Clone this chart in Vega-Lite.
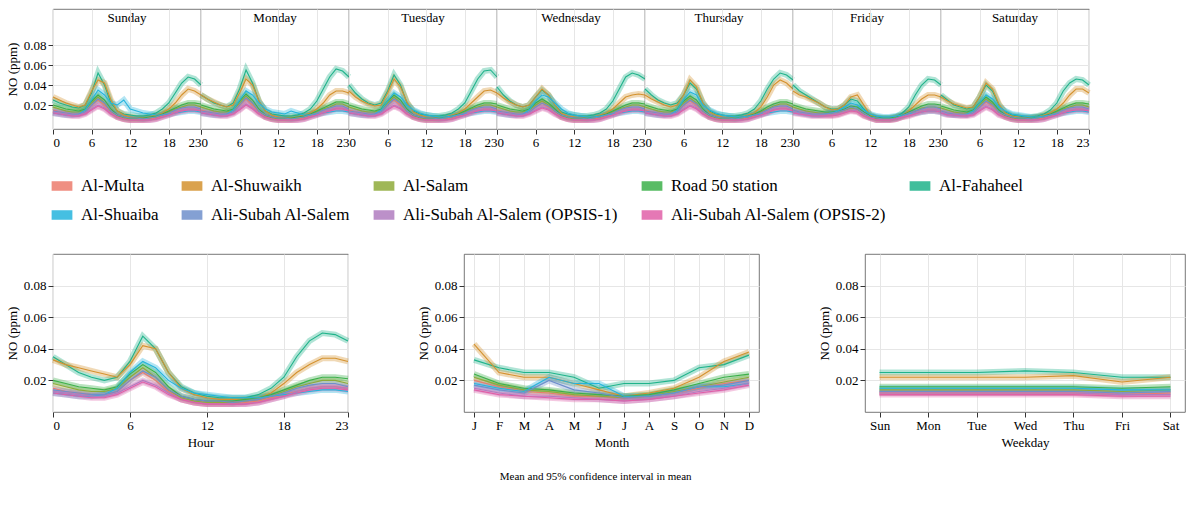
{
  "$schema": "https://vega.github.io/schema/vega-lite/v6.json",
  "background": "white",
  "padding": {"left": 5, "top": 8, "right": 5, "bottom": 5},
  "title": {"text": "Mean and 95% confidence interval in mean", "orient": "bottom", "anchor": "middle", "fontSize": 11, "fontWeight": "normal", "font": "Liberation Serif", "offset": 22},
  "datasets": {
    "top": [
      {"d": "Sunday", "s": "Al-Fahaheel", "v": [0.025,0.022,0.020,0.018,0.017,0.020,0.032,0.052,0.040,0.022,0.014,0.011,0.010,0.009,0.009,0.010,0.012,0.016,0.022,0.032,0.042,0.048,0.046,0.040]},
      {"d": "Monday", "s": "Al-Fahaheel", "v": [0.030,0.026,0.022,0.020,0.018,0.022,0.036,0.055,0.042,0.024,0.014,0.011,0.010,0.009,0.009,0.010,0.012,0.016,0.024,0.036,0.048,0.056,0.054,0.048]},
      {"d": "Tuesday", "s": "Al-Fahaheel", "v": [0.040,0.032,0.026,0.022,0.020,0.022,0.034,0.050,0.040,0.022,0.014,0.011,0.010,0.009,0.009,0.010,0.012,0.016,0.022,0.034,0.046,0.054,0.055,0.048]},
      {"d": "Wednesday", "s": "Al-Fahaheel", "v": [0.038,0.030,0.024,0.020,0.018,0.020,0.028,0.035,0.030,0.020,0.013,0.011,0.010,0.009,0.009,0.010,0.012,0.016,0.024,0.036,0.048,0.052,0.050,0.046]},
      {"d": "Thursday", "s": "Al-Fahaheel", "v": [0.036,0.030,0.025,0.022,0.020,0.022,0.030,0.042,0.036,0.022,0.014,0.011,0.010,0.009,0.009,0.010,0.012,0.016,0.024,0.036,0.046,0.052,0.050,0.045]},
      {"d": "Friday", "s": "Al-Fahaheel", "v": [0.040,0.034,0.030,0.026,0.022,0.018,0.016,0.016,0.020,0.026,0.024,0.016,0.010,0.008,0.007,0.007,0.008,0.012,0.018,0.030,0.040,0.046,0.045,0.040]},
      {"d": "Saturday", "s": "Al-Fahaheel", "v": [0.030,0.025,0.020,0.018,0.016,0.018,0.028,0.040,0.034,0.020,0.013,0.010,0.009,0.008,0.008,0.009,0.011,0.015,0.022,0.034,0.042,0.046,0.045,0.040]},
      {"d": "Sunday", "s": "Al-Shuwaikh", "v": [0.028,0.025,0.022,0.020,0.018,0.020,0.034,0.045,0.042,0.025,0.014,0.010,0.008,0.007,0.007,0.008,0.010,0.012,0.016,0.022,0.030,0.036,0.034,0.030]},
      {"d": "Monday", "s": "Al-Shuwaikh", "v": [0.030,0.026,0.023,0.020,0.018,0.020,0.032,0.046,0.040,0.024,0.014,0.010,0.008,0.007,0.007,0.008,0.010,0.012,0.016,0.022,0.030,0.034,0.034,0.032]},
      {"d": "Tuesday", "s": "Al-Shuwaikh", "v": [0.034,0.028,0.024,0.021,0.019,0.020,0.032,0.046,0.038,0.023,0.013,0.010,0.008,0.007,0.007,0.008,0.010,0.012,0.016,0.022,0.028,0.034,0.035,0.032]},
      {"d": "Wednesday", "s": "Al-Shuwaikh", "v": [0.032,0.027,0.023,0.020,0.018,0.020,0.028,0.036,0.030,0.020,0.012,0.009,0.008,0.007,0.007,0.008,0.010,0.012,0.016,0.022,0.028,0.030,0.031,0.030]},
      {"d": "Thursday", "s": "Al-Shuwaikh", "v": [0.030,0.026,0.023,0.020,0.018,0.020,0.030,0.045,0.038,0.022,0.013,0.010,0.008,0.007,0.007,0.008,0.010,0.012,0.018,0.028,0.040,0.045,0.042,0.036]},
      {"d": "Friday", "s": "Al-Shuwaikh", "v": [0.034,0.030,0.028,0.025,0.022,0.018,0.015,0.016,0.020,0.028,0.030,0.020,0.010,0.007,0.006,0.006,0.008,0.010,0.014,0.020,0.026,0.030,0.030,0.028]},
      {"d": "Saturday", "s": "Al-Shuwaikh", "v": [0.028,0.024,0.021,0.019,0.017,0.018,0.028,0.042,0.036,0.021,0.012,0.009,0.008,0.007,0.007,0.008,0.010,0.012,0.016,0.022,0.030,0.036,0.036,0.032]},
      {"d": "Sunday", "s": "Al-Multa", "v": [0.015,0.013,0.012,0.011,0.011,0.013,0.020,0.025,0.020,0.013,0.008,0.006,0.005,0.005,0.005,0.006,0.007,0.009,0.011,0.013,0.015,0.016,0.016,0.015]},
      {"d": "Monday", "s": "Al-Multa", "v": [0.015,0.013,0.012,0.011,0.011,0.013,0.020,0.026,0.020,0.013,0.008,0.006,0.005,0.005,0.005,0.006,0.007,0.009,0.011,0.013,0.015,0.017,0.017,0.015]},
      {"d": "Tuesday", "s": "Al-Multa", "v": [0.015,0.013,0.012,0.011,0.011,0.013,0.020,0.025,0.020,0.013,0.008,0.006,0.005,0.005,0.005,0.006,0.007,0.009,0.011,0.013,0.015,0.016,0.016,0.015]},
      {"d": "Wednesday", "s": "Al-Multa", "v": [0.015,0.013,0.012,0.011,0.011,0.013,0.018,0.022,0.018,0.013,0.008,0.006,0.005,0.005,0.005,0.006,0.007,0.009,0.011,0.013,0.015,0.016,0.016,0.015]},
      {"d": "Thursday", "s": "Al-Multa", "v": [0.015,0.013,0.012,0.011,0.011,0.013,0.020,0.024,0.020,0.013,0.008,0.006,0.005,0.005,0.005,0.006,0.007,0.009,0.011,0.013,0.015,0.017,0.017,0.015]},
      {"d": "Friday", "s": "Al-Multa", "v": [0.015,0.013,0.012,0.011,0.010,0.010,0.010,0.011,0.013,0.015,0.014,0.010,0.007,0.005,0.005,0.005,0.006,0.008,0.010,0.012,0.014,0.015,0.015,0.014]},
      {"d": "Saturday", "s": "Al-Multa", "v": [0.014,0.012,0.011,0.011,0.010,0.012,0.018,0.023,0.019,0.012,0.008,0.006,0.005,0.005,0.005,0.006,0.007,0.009,0.011,0.013,0.015,0.016,0.016,0.015]},
      {"d": "Sunday", "s": "Al-Salam", "v": [0.018,0.016,0.014,0.013,0.013,0.015,0.022,0.028,0.022,0.014,0.009,0.007,0.006,0.006,0.006,0.007,0.008,0.010,0.013,0.016,0.018,0.020,0.020,0.018]},
      {"d": "Monday", "s": "Al-Salam", "v": [0.018,0.016,0.014,0.013,0.013,0.015,0.022,0.029,0.022,0.014,0.009,0.007,0.006,0.006,0.006,0.007,0.008,0.010,0.013,0.016,0.018,0.021,0.021,0.018]},
      {"d": "Tuesday", "s": "Al-Salam", "v": [0.018,0.016,0.014,0.013,0.013,0.015,0.022,0.028,0.022,0.014,0.009,0.007,0.006,0.006,0.006,0.007,0.008,0.010,0.013,0.016,0.018,0.020,0.020,0.018]},
      {"d": "Wednesday", "s": "Al-Salam", "v": [0.018,0.016,0.014,0.013,0.013,0.015,0.020,0.024,0.020,0.014,0.009,0.007,0.006,0.006,0.006,0.007,0.008,0.010,0.013,0.016,0.018,0.020,0.020,0.018]},
      {"d": "Thursday", "s": "Al-Salam", "v": [0.018,0.016,0.014,0.013,0.013,0.015,0.022,0.027,0.022,0.014,0.009,0.007,0.006,0.006,0.006,0.007,0.008,0.010,0.013,0.016,0.019,0.021,0.021,0.018]},
      {"d": "Friday", "s": "Al-Salam", "v": [0.018,0.016,0.014,0.013,0.012,0.012,0.012,0.013,0.015,0.017,0.016,0.011,0.008,0.006,0.006,0.006,0.007,0.009,0.012,0.014,0.017,0.018,0.018,0.017]},
      {"d": "Saturday", "s": "Al-Salam", "v": [0.017,0.015,0.013,0.012,0.012,0.014,0.020,0.026,0.021,0.013,0.009,0.007,0.006,0.006,0.006,0.007,0.008,0.010,0.013,0.016,0.018,0.020,0.020,0.018]},
      {"d": "Sunday", "s": "Road 50 station", "v": [0.020,0.018,0.016,0.015,0.014,0.016,0.024,0.030,0.025,0.016,0.010,0.008,0.007,0.007,0.007,0.008,0.009,0.011,0.014,0.017,0.020,0.022,0.022,0.021]},
      {"d": "Monday", "s": "Road 50 station", "v": [0.020,0.018,0.016,0.015,0.014,0.016,0.024,0.031,0.025,0.016,0.010,0.008,0.007,0.007,0.007,0.008,0.009,0.011,0.014,0.017,0.020,0.023,0.023,0.021]},
      {"d": "Tuesday", "s": "Road 50 station", "v": [0.020,0.018,0.016,0.015,0.014,0.016,0.024,0.030,0.025,0.016,0.010,0.008,0.007,0.007,0.007,0.008,0.009,0.011,0.014,0.017,0.020,0.022,0.022,0.021]},
      {"d": "Wednesday", "s": "Road 50 station", "v": [0.020,0.018,0.016,0.015,0.014,0.016,0.022,0.026,0.022,0.016,0.010,0.008,0.007,0.007,0.007,0.008,0.009,0.011,0.014,0.017,0.020,0.022,0.022,0.021]},
      {"d": "Thursday", "s": "Road 50 station", "v": [0.020,0.018,0.016,0.015,0.014,0.016,0.024,0.029,0.025,0.016,0.010,0.008,0.007,0.007,0.007,0.008,0.009,0.011,0.014,0.018,0.021,0.023,0.023,0.021]},
      {"d": "Friday", "s": "Road 50 station", "v": [0.020,0.018,0.016,0.015,0.014,0.013,0.013,0.014,0.016,0.019,0.018,0.013,0.009,0.007,0.007,0.007,0.008,0.010,0.013,0.016,0.019,0.021,0.021,0.020]},
      {"d": "Saturday", "s": "Road 50 station", "v": [0.019,0.017,0.015,0.014,0.013,0.015,0.022,0.028,0.023,0.015,0.010,0.008,0.007,0.007,0.007,0.008,0.009,0.011,0.014,0.017,0.020,0.022,0.022,0.021]},
      {"d": "Sunday", "s": "Al-Shuaiba", "v": [0.012,0.011,0.010,0.010,0.011,0.015,0.025,0.035,0.030,0.022,0.020,0.025,0.016,0.014,0.012,0.011,0.010,0.010,0.011,0.012,0.013,0.014,0.014,0.013]},
      {"d": "Monday", "s": "Al-Shuaiba", "v": [0.012,0.011,0.010,0.010,0.011,0.015,0.025,0.034,0.030,0.022,0.016,0.013,0.012,0.011,0.014,0.012,0.010,0.010,0.011,0.012,0.013,0.014,0.014,0.013]},
      {"d": "Tuesday", "s": "Al-Shuaiba", "v": [0.012,0.011,0.010,0.010,0.011,0.015,0.024,0.032,0.028,0.020,0.015,0.012,0.010,0.009,0.008,0.008,0.009,0.010,0.011,0.012,0.013,0.014,0.014,0.013]},
      {"d": "Wednesday", "s": "Al-Shuaiba", "v": [0.012,0.011,0.010,0.010,0.011,0.015,0.024,0.030,0.028,0.022,0.016,0.012,0.010,0.009,0.008,0.008,0.009,0.010,0.011,0.012,0.013,0.014,0.014,0.013]},
      {"d": "Thursday", "s": "Al-Shuaiba", "v": [0.012,0.011,0.010,0.010,0.011,0.015,0.025,0.033,0.030,0.020,0.015,0.012,0.010,0.009,0.008,0.008,0.009,0.010,0.011,0.012,0.013,0.014,0.014,0.013]},
      {"d": "Friday", "s": "Al-Shuaiba", "v": [0.013,0.012,0.011,0.010,0.010,0.011,0.012,0.014,0.018,0.022,0.020,0.015,0.011,0.009,0.008,0.008,0.009,0.010,0.011,0.012,0.013,0.014,0.014,0.013]},
      {"d": "Saturday", "s": "Al-Shuaiba", "v": [0.012,0.011,0.010,0.010,0.011,0.014,0.022,0.030,0.026,0.018,0.014,0.011,0.010,0.009,0.008,0.008,0.009,0.010,0.011,0.012,0.013,0.014,0.014,0.013]},
      {"d": "Sunday", "s": "Ali-Subah Al-Salem", "v": [0.014,0.013,0.012,0.011,0.011,0.013,0.020,0.026,0.022,0.014,0.010,0.008,0.007,0.007,0.006,0.007,0.008,0.010,0.012,0.015,0.017,0.018,0.018,0.016]},
      {"d": "Monday", "s": "Ali-Subah Al-Salem", "v": [0.014,0.013,0.012,0.011,0.011,0.013,0.020,0.027,0.022,0.014,0.010,0.008,0.007,0.007,0.006,0.007,0.008,0.010,0.012,0.015,0.017,0.019,0.019,0.016]},
      {"d": "Tuesday", "s": "Ali-Subah Al-Salem", "v": [0.014,0.013,0.012,0.011,0.011,0.013,0.020,0.026,0.022,0.014,0.010,0.008,0.007,0.007,0.006,0.007,0.008,0.010,0.012,0.015,0.017,0.018,0.018,0.016]},
      {"d": "Wednesday", "s": "Ali-Subah Al-Salem", "v": [0.014,0.013,0.012,0.011,0.011,0.013,0.018,0.022,0.019,0.014,0.010,0.008,0.007,0.007,0.006,0.007,0.008,0.010,0.012,0.015,0.017,0.018,0.018,0.016]},
      {"d": "Thursday", "s": "Ali-Subah Al-Salem", "v": [0.014,0.013,0.012,0.011,0.011,0.013,0.020,0.025,0.021,0.014,0.010,0.008,0.007,0.007,0.006,0.007,0.008,0.010,0.012,0.015,0.018,0.019,0.019,0.016]},
      {"d": "Friday", "s": "Ali-Subah Al-Salem", "v": [0.015,0.013,0.012,0.011,0.011,0.011,0.012,0.013,0.015,0.018,0.016,0.012,0.008,0.007,0.006,0.006,0.007,0.009,0.012,0.014,0.016,0.018,0.018,0.016]},
      {"d": "Saturday", "s": "Ali-Subah Al-Salem", "v": [0.014,0.012,0.011,0.011,0.010,0.012,0.018,0.024,0.020,0.013,0.010,0.008,0.007,0.007,0.006,0.007,0.008,0.010,0.012,0.015,0.017,0.018,0.018,0.016]},
      {"d": "Sunday", "s": "Ali-Subah Al-Salem (OPSIS-1)", "v": [0.013,0.012,0.011,0.010,0.010,0.012,0.016,0.020,0.017,0.012,0.008,0.006,0.005,0.005,0.005,0.005,0.006,0.008,0.010,0.013,0.015,0.016,0.016,0.015]},
      {"d": "Monday", "s": "Ali-Subah Al-Salem (OPSIS-1)", "v": [0.013,0.012,0.011,0.010,0.010,0.012,0.016,0.021,0.017,0.012,0.008,0.006,0.005,0.005,0.005,0.005,0.006,0.008,0.010,0.013,0.015,0.017,0.017,0.015]},
      {"d": "Tuesday", "s": "Ali-Subah Al-Salem (OPSIS-1)", "v": [0.013,0.012,0.011,0.010,0.010,0.012,0.016,0.020,0.017,0.012,0.008,0.006,0.005,0.005,0.005,0.005,0.006,0.008,0.010,0.013,0.015,0.016,0.016,0.015]},
      {"d": "Wednesday", "s": "Ali-Subah Al-Salem (OPSIS-1)", "v": [0.013,0.012,0.011,0.010,0.010,0.012,0.015,0.018,0.016,0.012,0.008,0.006,0.005,0.005,0.005,0.005,0.006,0.008,0.010,0.013,0.015,0.016,0.016,0.015]},
      {"d": "Thursday", "s": "Ali-Subah Al-Salem (OPSIS-1)", "v": [0.013,0.012,0.011,0.010,0.010,0.012,0.016,0.020,0.017,0.012,0.008,0.006,0.005,0.005,0.005,0.005,0.006,0.008,0.010,0.013,0.016,0.017,0.017,0.015]},
      {"d": "Friday", "s": "Ali-Subah Al-Salem (OPSIS-1)", "v": [0.013,0.012,0.011,0.010,0.010,0.010,0.010,0.011,0.013,0.015,0.014,0.010,0.007,0.005,0.005,0.005,0.006,0.008,0.010,0.012,0.014,0.015,0.015,0.014]},
      {"d": "Saturday", "s": "Ali-Subah Al-Salem (OPSIS-1)", "v": [0.013,0.011,0.010,0.010,0.010,0.011,0.015,0.019,0.016,0.011,0.008,0.006,0.005,0.005,0.005,0.005,0.006,0.008,0.010,0.013,0.015,0.016,0.016,0.015]},
      {"d": "Sunday", "s": "Ali-Subah Al-Salem (OPSIS-2)", "v": [0.012,0.011,0.010,0.009,0.009,0.011,0.015,0.019,0.016,0.011,0.008,0.006,0.005,0.005,0.005,0.005,0.006,0.008,0.010,0.012,0.014,0.015,0.015,0.014]},
      {"d": "Monday", "s": "Ali-Subah Al-Salem (OPSIS-2)", "v": [0.012,0.011,0.010,0.009,0.009,0.011,0.015,0.020,0.016,0.011,0.008,0.006,0.005,0.005,0.005,0.005,0.006,0.008,0.010,0.012,0.014,0.016,0.016,0.014]},
      {"d": "Tuesday", "s": "Ali-Subah Al-Salem (OPSIS-2)", "v": [0.012,0.011,0.010,0.009,0.009,0.011,0.015,0.019,0.016,0.011,0.008,0.006,0.005,0.005,0.005,0.005,0.006,0.008,0.010,0.012,0.014,0.015,0.015,0.014]},
      {"d": "Wednesday", "s": "Ali-Subah Al-Salem (OPSIS-2)", "v": [0.012,0.011,0.010,0.009,0.009,0.011,0.014,0.017,0.015,0.011,0.008,0.006,0.005,0.005,0.005,0.005,0.006,0.008,0.010,0.012,0.014,0.015,0.015,0.014]},
      {"d": "Thursday", "s": "Ali-Subah Al-Salem (OPSIS-2)", "v": [0.012,0.011,0.010,0.009,0.009,0.011,0.015,0.019,0.016,0.011,0.008,0.006,0.005,0.005,0.005,0.005,0.006,0.008,0.010,0.012,0.015,0.016,0.016,0.014]},
      {"d": "Friday", "s": "Ali-Subah Al-Salem (OPSIS-2)", "v": [0.012,0.011,0.010,0.009,0.009,0.009,0.009,0.010,0.012,0.014,0.013,0.009,0.007,0.005,0.005,0.005,0.006,0.008,0.009,0.011,0.013,0.014,0.014,0.013]},
      {"d": "Saturday", "s": "Ali-Subah Al-Salem (OPSIS-2)", "v": [0.012,0.010,0.010,0.009,0.009,0.010,0.014,0.018,0.015,0.010,0.008,0.006,0.005,0.005,0.005,0.005,0.006,0.008,0.010,0.012,0.014,0.015,0.015,0.014]}
    ],
    "hour": [
      {"s": "Al-Fahaheel", "v": [0.035,0.030,0.025,0.022,0.020,0.022,0.032,0.048,0.040,0.025,0.016,0.012,0.010,0.009,0.009,0.009,0.011,0.015,0.022,0.035,0.045,0.050,0.049,0.045]},
      {"s": "Al-Shuwaikh", "v": [0.033,0.030,0.028,0.026,0.024,0.022,0.030,0.042,0.040,0.025,0.015,0.011,0.009,0.008,0.008,0.008,0.009,0.012,0.018,0.025,0.030,0.034,0.034,0.032]},
      {"s": "Al-Multa", "v": [0.015,0.013,0.012,0.011,0.011,0.013,0.020,0.025,0.020,0.013,0.008,0.006,0.005,0.005,0.005,0.006,0.007,0.009,0.011,0.013,0.015,0.016,0.016,0.015]},
      {"s": "Al-Salam", "v": [0.018,0.016,0.014,0.013,0.013,0.015,0.022,0.028,0.022,0.014,0.009,0.007,0.006,0.006,0.006,0.007,0.008,0.010,0.013,0.016,0.018,0.020,0.020,0.018]},
      {"s": "Road 50 station", "v": [0.020,0.018,0.016,0.015,0.014,0.016,0.024,0.030,0.025,0.016,0.010,0.008,0.007,0.007,0.007,0.008,0.009,0.011,0.014,0.017,0.020,0.022,0.022,0.021]},
      {"s": "Al-Shuaiba", "v": [0.012,0.011,0.010,0.010,0.011,0.015,0.025,0.032,0.028,0.020,0.015,0.012,0.011,0.010,0.009,0.009,0.009,0.010,0.011,0.012,0.013,0.014,0.014,0.013]},
      {"s": "Ali-Subah Al-Salem", "v": [0.014,0.013,0.012,0.011,0.011,0.013,0.020,0.026,0.022,0.014,0.010,0.008,0.007,0.007,0.006,0.007,0.008,0.010,0.012,0.015,0.017,0.018,0.018,0.016]},
      {"s": "Ali-Subah Al-Salem (OPSIS-1)", "v": [0.013,0.012,0.011,0.010,0.010,0.012,0.016,0.020,0.017,0.012,0.008,0.006,0.005,0.005,0.005,0.005,0.006,0.008,0.010,0.013,0.015,0.016,0.016,0.015]},
      {"s": "Ali-Subah Al-Salem (OPSIS-2)", "v": [0.012,0.011,0.010,0.009,0.009,0.011,0.015,0.019,0.016,0.011,0.008,0.006,0.005,0.005,0.005,0.005,0.006,0.008,0.010,0.012,0.014,0.015,0.015,0.014]}
    ],
    "month": [
      {"s": "Al-Fahaheel", "v": [0.033,0.028,0.025,0.025,0.022,0.015,0.018,0.018,0.020,0.028,0.030,0.036]},
      {"s": "Al-Shuwaikh", "v": [0.043,0.025,0.022,0.022,0.018,0.014,0.010,0.012,0.015,0.022,0.032,0.038]},
      {"s": "Al-Multa", "v": [0.020,0.016,0.013,0.012,0.010,0.010,0.009,0.010,0.012,0.015,0.018,0.020]},
      {"s": "Al-Salam", "v": [0.022,0.017,0.014,0.013,0.011,0.010,0.009,0.010,0.013,0.016,0.019,0.022]},
      {"s": "Road 50 station", "v": [0.024,0.018,0.015,0.014,0.012,0.011,0.010,0.011,0.014,0.018,0.022,0.024]},
      {"s": "Al-Shuaiba", "v": [0.018,0.015,0.013,0.022,0.018,0.018,0.010,0.010,0.012,0.016,0.016,0.018]},
      {"s": "Ali-Subah Al-Salem", "v": [0.017,0.014,0.012,0.020,0.014,0.012,0.009,0.010,0.012,0.016,0.017,0.020]},
      {"s": "Ali-Subah Al-Salem (OPSIS-1)", "v": [0.015,0.012,0.010,0.010,0.009,0.008,0.007,0.008,0.010,0.013,0.015,0.018]},
      {"s": "Ali-Subah Al-Salem (OPSIS-2)", "v": [0.014,0.011,0.010,0.009,0.008,0.008,0.007,0.008,0.010,0.012,0.014,0.017]}
    ],
    "wday": [
      {"s": "Al-Fahaheel", "v": [0.025,0.025,0.025,0.026,0.025,0.022,0.022]},
      {"s": "Al-Shuwaikh", "v": [0.022,0.022,0.022,0.022,0.023,0.019,0.022]},
      {"s": "Al-Multa", "v": [0.012,0.012,0.012,0.012,0.012,0.011,0.012]},
      {"s": "Al-Salam", "v": [0.014,0.014,0.014,0.014,0.014,0.013,0.014]},
      {"s": "Road 50 station", "v": [0.016,0.016,0.016,0.016,0.016,0.015,0.016]},
      {"s": "Al-Shuaiba", "v": [0.015,0.015,0.015,0.015,0.015,0.014,0.014]},
      {"s": "Ali-Subah Al-Salem", "v": [0.013,0.013,0.013,0.013,0.013,0.012,0.013]},
      {"s": "Ali-Subah Al-Salem (OPSIS-1)", "v": [0.012,0.012,0.012,0.012,0.012,0.011,0.011]},
      {"s": "Ali-Subah Al-Salem (OPSIS-2)", "v": [0.011,0.011,0.011,0.011,0.011,0.010,0.010]}
    ]
  },
  "vconcat": [
    {
      "data": {"name": "top"},
      "transform": [
        {"flatten": ["v"]},
        {"window": [{"op": "row_number", "as": "i"}], "groupby": ["d", "s"]},
        {"calculate": "datum.i - 1", "as": "h"}
      ],
      "facet": {
        "column": {
          "field": "d",
          "sort": ["Sunday", "Monday", "Tuesday", "Wednesday", "Thursday", "Friday", "Saturday"],
          "header": {"title": null, "labelFont": "Liberation Serif", "labelFontSize": 13, "labelOrient": "top", "labelPadding": -16}
        }
      },
      "spacing": 0,
      "bounds": "flush",
      "spec": {
        "width": 148,
        "height": 120,
        "encoding": {
          "x": {"field": "h", "type": "quantitative", "title": null, "scale": {"domain": [0, 23], "nice": false},
            "axis": {"values": [0, 6, 12, 18, 23], "grid": true,
              "labelExpr": "datum.value == 0 ? '\u00a0\u00a0\u00a00' : datum.value == 23 ? '23\u00a0\u00a0\u00a0\u00a0' : datum.label"}},
          "y": {"field": "v", "type": "quantitative", "title": "NO (ppm)", "scale": {"domain": [-0.004, 0.116], "nice": false}, "axis": {"values": [0.02, 0.04, 0.06, 0.08], "format": ".2f"}},
          "color": {
            "field": "s", "type": "nominal",
            "scale": {
              "domain": ["Al-Multa", "Al-Shuwaikh", "Al-Salam", "Road 50 station", "Al-Fahaheel", "Al-Shuaiba", "Ali-Subah Al-Salem", "Ali-Subah Al-Salem (OPSIS-1)", "Ali-Subah Al-Salem (OPSIS-2)"],
              "range": ["#EC7B6C", "#D4922F", "#8EAA3A", "#3CB04A", "#1FB38A", "#25B4DD", "#6E8FCB", "#B07CC0", "#E060A8"]
            },
            "legend": {
              "title": null, "orient": "bottom", "columns": 5, "direction": "horizontal",
              "labelFont": "Liberation Serif", "labelFontSize": 17, "labelLimit": 400, "labelOffset": 10,
              "symbolType": "M-1.2,-0.55H1.2V0.55H-1.2Z", "symbolSize": 300, "symbolStrokeWidth": 0,
              "columnPadding": 22, "rowPadding": 12, "offset": 28, "padding": 0,
              "encode": {
                "symbols": {"update": {"fill": {"scale": "color", "field": "value"}, "fillOpacity": {"value": 0.85}}}
              }
            }
          }
        },
        "layer": [
          {"mark": {"type": "line", "strokeWidth": 6, "opacity": 0.35}},
          {"mark": {"type": "line", "strokeWidth": 1.1}}
        ]
      }
    },
    {
      "hconcat": [
        {
          "data": {"name": "hour"},
          "width": 295, "height": 158,
          "transform": [
            {"flatten": ["v"]},
            {"window": [{"op": "row_number", "as": "i"}], "groupby": ["s"]},
            {"calculate": "datum.i - 1", "as": "h"}
          ],
          "encoding": {
            "x": {"field": "h", "type": "quantitative", "title": "Hour", "scale": {"domain": [0, 23], "nice": false}, "axis": {"values": [0, 6, 12, 18, 23]}},
            "y": {"field": "v", "type": "quantitative", "title": "NO (ppm)", "scale": {"domain": [0, 0.1], "nice": false}, "axis": {"values": [0.02, 0.04, 0.06, 0.08], "format": ".2f"}},
            "color": {"field": "s", "type": "nominal", "legend": null}
          },
          "layer": [
            {"mark": {"type": "line", "strokeWidth": 6, "opacity": 0.35}},
            {"mark": {"type": "line", "strokeWidth": 1.1}}
          ]
        },
        {
          "data": {"name": "month"},
          "width": 295, "height": 158,
          "transform": [
            {"flatten": ["v"]},
            {"window": [{"op": "row_number", "as": "m"}], "groupby": ["s"]}
          ],
          "encoding": {
            "x": {"field": "m", "type": "ordinal", "title": "Month", "scale": {"type": "point", "padding": 0.4}, "axis": {"labelAngle": 0, "labelExpr": "['J','F','M','A','M','J','J','A','S','O','N','D'][datum.value - 1]", "grid": true}},
            "y": {"field": "v", "type": "quantitative", "title": "NO (ppm)", "scale": {"domain": [0, 0.1], "nice": false}, "axis": {"values": [0.02, 0.04, 0.06, 0.08], "format": ".2f"}},
            "color": {"field": "s", "type": "nominal", "legend": null}
          },
          "layer": [
            {"mark": {"type": "line", "strokeWidth": 6, "opacity": 0.35}},
            {"mark": {"type": "line", "strokeWidth": 1.1}}
          ]
        },
        {
          "data": {"name": "wday"},
          "width": 320, "height": 158,
          "transform": [
            {"flatten": ["v"]},
            {"window": [{"op": "row_number", "as": "w"}], "groupby": ["s"]}
          ],
          "encoding": {
            "x": {"field": "w", "type": "ordinal", "title": "Weekday", "scale": {"type": "point", "padding": 0.3}, "axis": {"labelAngle": 0, "labelExpr": "['Sun','Mon','Tue','Wed','Thu','Fri','Sat'][datum.value - 1]", "grid": true}},
            "y": {"field": "v", "type": "quantitative", "title": "NO (ppm)", "scale": {"domain": [0, 0.1], "nice": false}, "axis": {"values": [0.02, 0.04, 0.06, 0.08], "format": ".2f"}},
            "color": {"field": "s", "type": "nominal", "legend": null}
          },
          "layer": [
            {"mark": {"type": "line", "strokeWidth": 6, "opacity": 0.35}},
            {"mark": {"type": "line", "strokeWidth": 1.1}}
          ]
        }
      ],
      "spacing": 55
    }
  ],
  "spacing": 30,
  "resolve": {"legend": {"color": "independent"}},
  "config": {
    "font": "Liberation Serif",
    "view": {"stroke": "#555", "strokeWidth": 0.8},
    "axis": {"labelFont": "Liberation Serif", "titleFont": "Liberation Serif", "labelFontSize": 13, "titleFontSize": 13, "titleFontWeight": "normal", "gridColor": "#e6e6e6", "domain": false, "tickColor": "#333", "labelColor": "#000", "titleColor": "#000"},
    "legend": {"labelFont": "Liberation Serif"},
    "header": {"labelFont": "Liberation Serif"}
  }
}
